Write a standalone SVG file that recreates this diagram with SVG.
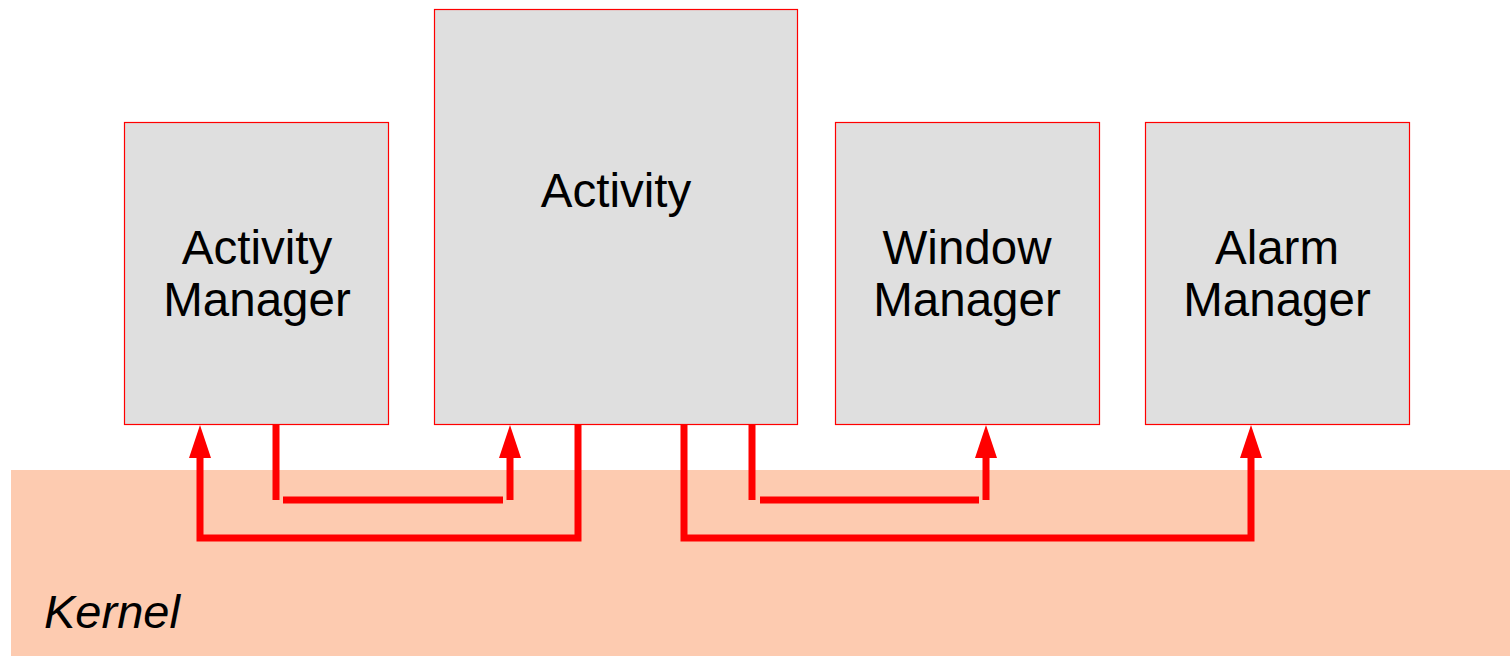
<svg xmlns="http://www.w3.org/2000/svg" width="1510" height="656" viewBox="0 0 1510 656">
<defs>
<style>
.box{fill:#dfdfdf;stroke:#ff0000;stroke-width:1.2}
.lbl{font-family:"Liberation Sans",Arial,sans-serif;font-size:47.5px;fill:#000;text-anchor:middle}
.ln{fill:none;stroke:#ff0000;stroke-width:7}
.ah{fill:#ff0000}
</style>
</defs>
<rect id="kernel-bg" x="11" y="470" width="1499" height="186" fill="#fdcbb0"/>
<g id="kernel"><text x="44" y="628" font-family="'Liberation Sans',Arial,sans-serif" font-size="47" font-style="italic" fill="#000">Kernel</text></g>
<g id="activity-manager">
<rect class="box" x="124.5" y="122.5" width="264" height="302"/>
<text class="lbl" x="257" y="264">Activity</text>
<text class="lbl" x="257" y="316">Manager</text>
</g>
<g id="activity">
<rect class="box" x="434.5" y="9.5" width="363" height="415"/>
<text class="lbl" x="616" y="207">Activity</text>
</g>
<g id="window-manager">
<rect class="box" x="835.5" y="122.5" width="264" height="302"/>
<text class="lbl" x="967" y="264">Window</text>
<text class="lbl" x="967" y="316">Manager</text>
</g>
<g id="alarm-manager">
<rect class="box" x="1145.5" y="122.5" width="264" height="302"/>
<text class="lbl" x="1277" y="264">Alarm</text>
<text class="lbl" x="1277" y="316">Manager</text>
</g>
<g id="connectors">
<path class="ln" d="M578 425 V538 H200 V457"/>
<polygon class="ah" points="200,425 189,458 211,458"/>
<path class="ln" d="M276 425 V500"/>
<path class="ln" d="M283 500 H503"/>
<path class="ln" d="M510 500 V457"/>
<polygon class="ah" points="510,425 499,458 521,458"/>
<path class="ln" d="M684 425 V538 H1251 V457"/>
<polygon class="ah" points="1251,425 1240,458 1262,458"/>
<path class="ln" d="M752 425 V500"/>
<path class="ln" d="M760 500 H979"/>
<path class="ln" d="M986 500 V457"/>
<polygon class="ah" points="986,425 975,458 997,458"/>
</g>
</svg>
